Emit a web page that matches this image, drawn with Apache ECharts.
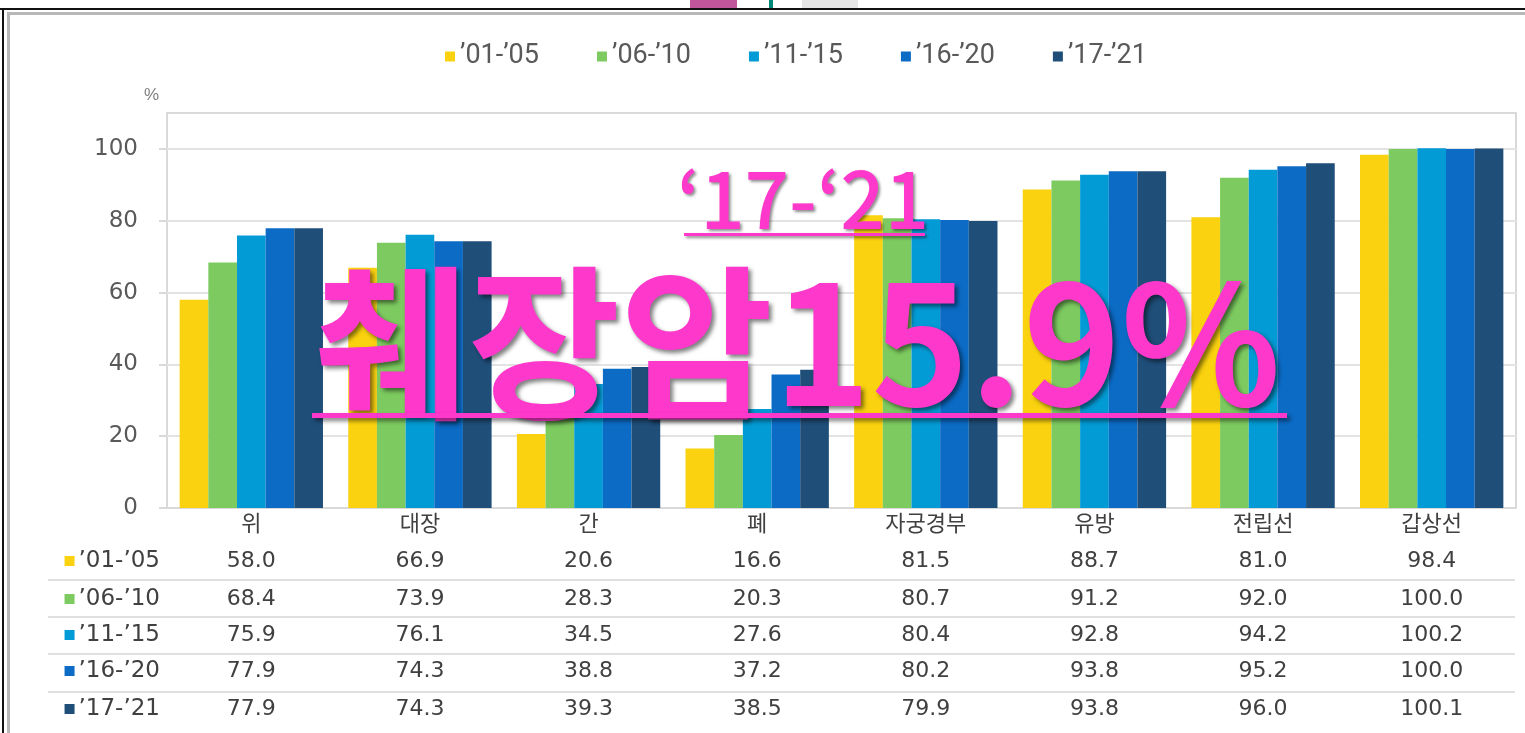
<!DOCTYPE html>
<html><head><meta charset="utf-8">
<script src="https://cdn.jsdelivr.net/npm/echarts@6/dist/echarts.min.js"></script>
<style>html,body{margin:0;padding:0;background:#fff}#c{width:1525px;height:733px}</style>
</head><body><div id="c"></div>
<script>
const categories = ['위','대장','간','폐','자궁경부','유방','전립선','갑상선'];
const seriesNames = ['’01-’05','’06-’10','’11-’15','’16-’20','’17-’21'];
const s0105 = [58.0,66.9,20.6,16.6,81.5,88.7,81.0,98.4];
const s0610 = [68.4,73.9,28.3,20.3,80.7,91.2,92.0,100.0];
const s1115 = [75.9,76.1,34.5,27.6,80.4,92.8,94.2,100.2];
const s1620 = [77.9,74.3,38.8,37.2,80.2,93.8,95.2,100.0];
const s1721 = [77.9,74.3,39.3,38.5,79.9,93.8,96.0,100.1];
const yTicks = [0,20,40,60,80,100];
const overlaySmall = '‘17-‘21';
const overlayBig = '췌장암15.9%';

const colors = ['#FAD20F','#7DCB60','#039BD5','#0C6BC5','#1F4E79'];
const allSeries = [s0105,s0610,s1115,s1620,s1721];
const rowOffsets = [53,91,127,163,201];
const tableFont = "'DejaVu Sans','Noto Sans CJK KR',sans-serif";

const chart = echarts.init(document.getElementById('c'));

const xAxes = [{
  type:'category', data:categories, gridIndex:0, position:'bottom',
  axisLine:{lineStyle:{color:'#d9d9d9',width:2}}, axisTick:{show:false},
  axisLabel:{color:'#404040',fontSize:22,fontFamily:tableFont,margin:17,verticalAlign:'middle'}
}];
allSeries.forEach((arr,i)=>{
  xAxes.push({
    type:'category', data:arr.map(v=>v.toFixed(1)), gridIndex:0, position:'bottom', offset:rowOffsets[i],
    axisLine:{show:false}, axisTick:{show:false}, splitLine:{show:false},
    axisLabel:{color:'#404040',fontSize:22,fontFamily:tableFont,margin:0,verticalAlign:'middle'},
    name:'{i|}{t|'+seriesNames[i]+'}', nameLocation:'start', nameGap:7,
    nameTextStyle:{align:'right',verticalAlign:'middle',
      rich:{i:{width:10,height:10,backgroundColor:colors[i]},
            t:{fontSize:23,color:'#404040',fontFamily:tableFont,padding:[0,0,0,4]}}}
  });
});

const seriesList = allSeries.map((arr,i)=>({
  name:seriesNames[i], type:'bar', data:arr, xAxisIndex:0,
  itemStyle:{color:colors[i]}, barGap:'0%', barCategoryGap:'15%'
}));

const pink = '#FF38CC';
chart.setOption({
  backgroundColor:'#ffffff',
  animation:false,
  legend:{top:38,left:440,icon:'rect',itemWidth:10,itemHeight:10,itemGap:58,
    textStyle:{fontSize:27,color:'#595959',fontFamily:'Roboto'},data:seriesNames},
  grid:{left:167,right:9,top:113,bottom:225,show:true,borderColor:'#d9d9d9',borderWidth:2,containLabel:false},
  xAxis:xAxes,
  yAxis:{type:'value',min:0,max:110,interval:20,
    name:'%',nameLocation:'end',nameGap:9,
    nameTextStyle:{color:'#7f7f7f',fontSize:17,align:'right',padding:[0,8,0,0]},
    axisLine:{show:false},
    axisTick:{show:true,inside:false,length:8,lineStyle:{color:'#d9d9d9',width:2},customValues:yTicks},
    axisLabel:{color:'#595959',fontSize:23,fontFamily:tableFont,margin:29,customValues:yTicks},
    splitLine:{lineStyle:{color:'#e3e3e3',width:2}}},
  series:seriesList,
  graphic:[
    {type:'rect',z:50,shape:{x:0,y:8,width:1525,height:2},style:{fill:'#111'}},
    {type:'rect',z:50,shape:{x:8,y:12,width:1517,height:3},style:{fill:'#b8b8b8'}},
    {type:'rect',z:50,shape:{x:2,y:8,width:2,height:725},style:{fill:'#111'}},
    {type:'rect',z:50,shape:{x:7,y:12,width:3,height:721},style:{fill:'#b8b8b8'}},
    {type:'rect',z:50,shape:{x:690,y:0,width:47,height:8},style:{fill:'#c2569b'}},
    {type:'rect',z:50,shape:{x:769,y:0,width:4,height:8},style:{fill:'#00897b'}},
    {type:'rect',z:50,shape:{x:802,y:0,width:56,height:8},style:{fill:'#e6e6e6'}},
    {type:'line',z:5,shape:{x1:48,y1:580,x2:1515,y2:580},style:{stroke:'#e0e0e0',lineWidth:2}},
    {type:'line',z:5,shape:{x1:48,y1:617,x2:1515,y2:617},style:{stroke:'#e0e0e0',lineWidth:2}},
    {type:'line',z:5,shape:{x1:48,y1:654,x2:1515,y2:654},style:{stroke:'#e0e0e0',lineWidth:2}},
    {type:'line',z:5,shape:{x1:48,y1:692,x2:1515,y2:692},style:{stroke:'#e0e0e0',lineWidth:2}},
    {type:'text',z:100,x:803,y:238,style:{text:overlaySmall,fill:pink,fontSize:78,fontWeight:500,
      fontFamily:"'Noto Sans CJK KR'",textAlign:'center',textVerticalAlign:'bottom',
      textShadowColor:'rgba(0,0,0,0.45)',textShadowOffsetX:2,textShadowOffsetY:2,textShadowBlur:3}},
    {type:'rect',z:100,shape:{x:684,y:233,width:241,height:3},style:{fill:pink,shadowColor:'rgba(0,0,0,0.45)',shadowOffsetX:2,shadowOffsetY:2,shadowBlur:3}},
    {type:'text',z:100,x:798,y:426,style:{text:overlayBig,fill:pink,fontSize:166,fontWeight:'bold',
      fontFamily:"'Noto Sans CJK KR'",textAlign:'center',textVerticalAlign:'bottom',
      textShadowColor:'rgba(0,0,0,0.5)',textShadowOffsetX:3,textShadowOffsetY:3,textShadowBlur:4}},
    {type:'rect',z:100,shape:{x:312,y:413,width:975,height:5},style:{fill:pink,shadowColor:'rgba(0,0,0,0.5)',shadowOffsetX:3,shadowOffsetY:3,shadowBlur:4}}
  ]
});
</script></body></html>
